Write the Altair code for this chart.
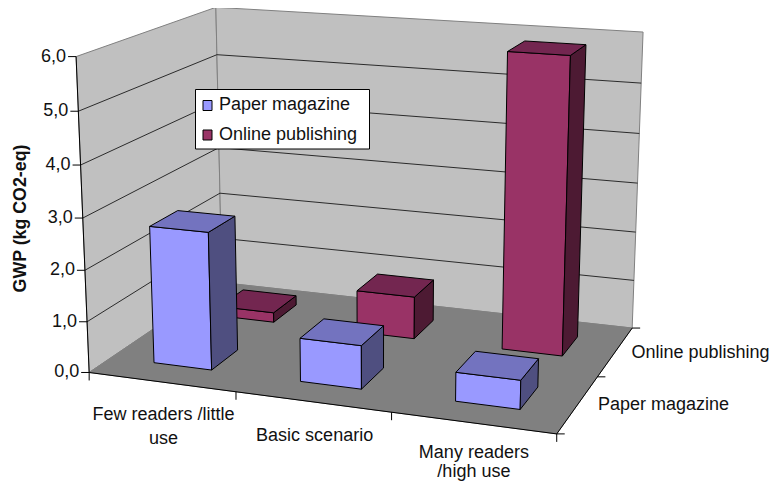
import numpy as np
import pandas as pd
import altair as alt

# ---- chart values ----
categories = [["Few readers /little", "use"], ["Basic scenario"], ["Many readers", "/high use"]]
series = ["Paper magazine", "Online publishing"]
paper_values = [2.69, 0.84, 0.55]
online_values = [0.2, 0.86, 5.85]
value_ticks = [0, 1, 2, 3, 4, 5, 6]
value_labels = ["0,0", "1,0", "2,0", "3,0", "4,0", "5,0", "6,0"]
axis_title = "GWP (kg CO2-eq)"

# ---- colours: front, side, top ----
paper_cols = ["#9999FF", "#4F4F80", "#7373BF"]
online_cols = ["#993366", "#4D1A33", "#732650"]
wall_col, floor_col, edge_col = "#C0C0C0", "#808080", "#808080"
FONT = "Liberation Sans"
FS = 18

# ---- camera calibration: box corner (cat, series, value) -> page pixel ----
calib_box = [(0,0,0),(3,0,0),(3,2,0),(0,2,0),(0,0,6),(0,2,6),(3,2,6)]
calib_px = [(89,372),(557,434),(632,328),(222,283),(76,57),(216,7),(643,32)]

def fit_camera(box, px):
    A, b = [], []
    for (X, Y, Z), (u, v) in zip(box, px):
        A.append([X, Y, Z, 1, 0, 0, 0, 0, -u*X, -u*Y, -u*Z]); b.append(u)
        A.append([0, 0, 0, 0, X, Y, Z, 1, -v*X, -v*Y, -v*Z]); b.append(v)
    p = np.linalg.lstsq(np.array(A, float), np.array(b, float), rcond=None)[0]
    return np.append(p, 1.0).reshape(3, 4)

CAM = fit_camera(calib_box, calib_px)

def proj(u, v, z):
    r = CAM @ np.array([u, v, z, 1.0])
    return float(r[0]/r[2]), float(r[1]/r[2])

rows_bg, rows_line, rows_bar, rows_leg, rows_txt = [], [], [], [], []
counter = [0]

def add(rows, pts, fill="none", stroke="#000000", sw=1.0):
    counter[0] += 1
    for i, (x, y) in enumerate(pts):
        rows.append(dict(id=counter[0], i=i, x=x, y=y, fill=fill, stroke=stroke, sw=sw))

def txt(s, x, y, align="left", bold=False):
    rows_txt.append(dict(s=s, x=x, y=y, align=align, bold=bold))

# walls and floor
add(rows_bg, [proj(0,0,0), proj(0,2,0), proj(0,2,6), proj(0,0,6)], wall_col, edge_col)
add(rows_bg, [proj(0,2,0), proj(3,2,0), proj(3,2,6), proj(0,2,6)], wall_col, edge_col)
add(rows_bg, [proj(0,0,0), proj(3,0,0), proj(3,2,0), proj(0,2,0)], floor_col, floor_col)

# gridlines
for k in value_ticks[1:-1]:
    add(rows_line, [proj(0,0,k), proj(0,2,k), proj(3,2,k)], stroke="#1a1a1a", sw=0.9)

# axes + ticks
add(rows_line, [proj(0,0,0), proj(0,0,6)])
add(rows_line, [proj(0,0,0), proj(3,0,0), proj(3,2,0)])
for k, lab in zip(value_ticks, value_labels):
    x, y = proj(0,0,k)
    add(rows_line, [(x-8, y), (x, y)])
    txt(lab, x-10, y, "right")
for u in range(4):
    x, y = proj(u,0,0)
    add(rows_line, [(x, y), (x, y+8)])
for v in range(3):
    x, y = proj(3,v,0)
    add(rows_line, [(x, y), (x+8, y)])

# bars, back row first
def bar(u, v, val, cols):
    u0, u1, v0, v1 = u+.3, u+.7, v+.3, v+.7
    add(rows_bar, [proj(u0,v0,0), proj(u1,v0,0), proj(u1,v0,val), proj(u0,v0,val)], cols[0])
    add(rows_bar, [proj(u1,v0,0), proj(u1,v1,0), proj(u1,v1,val), proj(u1,v0,val)], cols[1])
    add(rows_bar, [proj(u0,v0,val), proj(u1,v0,val), proj(u1,v1,val), proj(u0,v1,val)], cols[2])

for u, val in enumerate(online_values):
    bar(u, 1, val, online_cols)
for u, val in enumerate(paper_values):
    bar(u, 0, val, paper_cols)

# category and series labels (kept inside the drawable page area)
cat_offsets = [(2, 33, 24), (2, 34, 0), (1, 30, 19)]
for u, lines in enumerate(categories):
    x, y = proj(u+.5, 0, 0)
    dx, dy, lh = cat_offsets[u]
    for j, s in enumerate(lines):
        txt(s, x+dx, y+dy+lh*j, "center")
series_dx = [20, 16]
for v, s in enumerate(series):
    x, y = proj(3, v+.5, 0)
    txt(s, x+series_dx[v], y+1, "left")

# value-axis title
txt(axis_title, 21, 218.5, "center", True)

# legend
LX0, LX1, LY0, LY1 = 195.5, 369.5, 89.5, 149
add(rows_leg, [(LX0,LY0),(LX1,LY0),(LX1,LY1),(LX0,LY1)], "#FFFFFF")
for s, c, yc in zip(series, [paper_cols[0], online_cols[0]], [105, 134.5]):
    add(rows_leg, [(203,yc-4.5),(212,yc-4.5),(212,yc+5.5),(203,yc+5.5)], c)
    txt(s, 219, yc, "left")

W, H = 761, 475
xs = alt.Scale(domain=[8, 8+W], range=[0, W], nice=False, zero=False)
ys = alt.Scale(domain=[8+H, 8], range=[H, 0], nice=False, zero=False)
X = alt.X("x:Q", scale=xs, axis=None)
Y = alt.Y("y:Q", scale=ys, axis=None)

def shapes(rows, closed=True):
    kw = dict(interpolate="linear-closed") if closed else {}
    return alt.Chart(pd.DataFrame(rows)).mark_line(clip=False, **kw).encode(
        x=X, y=Y, detail="id:N", order="i:Q",
        fill=alt.Fill("fill:N", scale=None),
        stroke=alt.Stroke("stroke:N", scale=None),
        strokeWidth=alt.StrokeWidth("sw:Q", scale=None),
    )

df_t = pd.DataFrame(rows_txt)
def texts(df, **kw):
    kw.setdefault("fontSize", FS)
    return alt.Chart(df).mark_text(font=FONT, color="#111111", baseline="middle", **kw).encode(
        x=X, y=Y, text="s:N")

layers = [shapes(rows_bg), shapes(rows_line, False), shapes(rows_bar), shapes(rows_leg)]
for al in ["left", "right", "center"]:
    d = df_t[(df_t["align"] == al) & (~df_t["bold"])]
    if len(d):
        layers.append(texts(d, align=al))
layers.append(texts(df_t[df_t["bold"]], align="center", angle=270, fontWeight="bold", fontSize=17.8))

chart = alt.layer(*layers).properties(
    width=W, height=H, padding=0, autosize=alt.AutoSizeParams(type="none"), background="#FFFFFF"
).configure_view(stroke=None)

chart.save("out.html", embed_options={"renderer": "svg", "actions": False})
